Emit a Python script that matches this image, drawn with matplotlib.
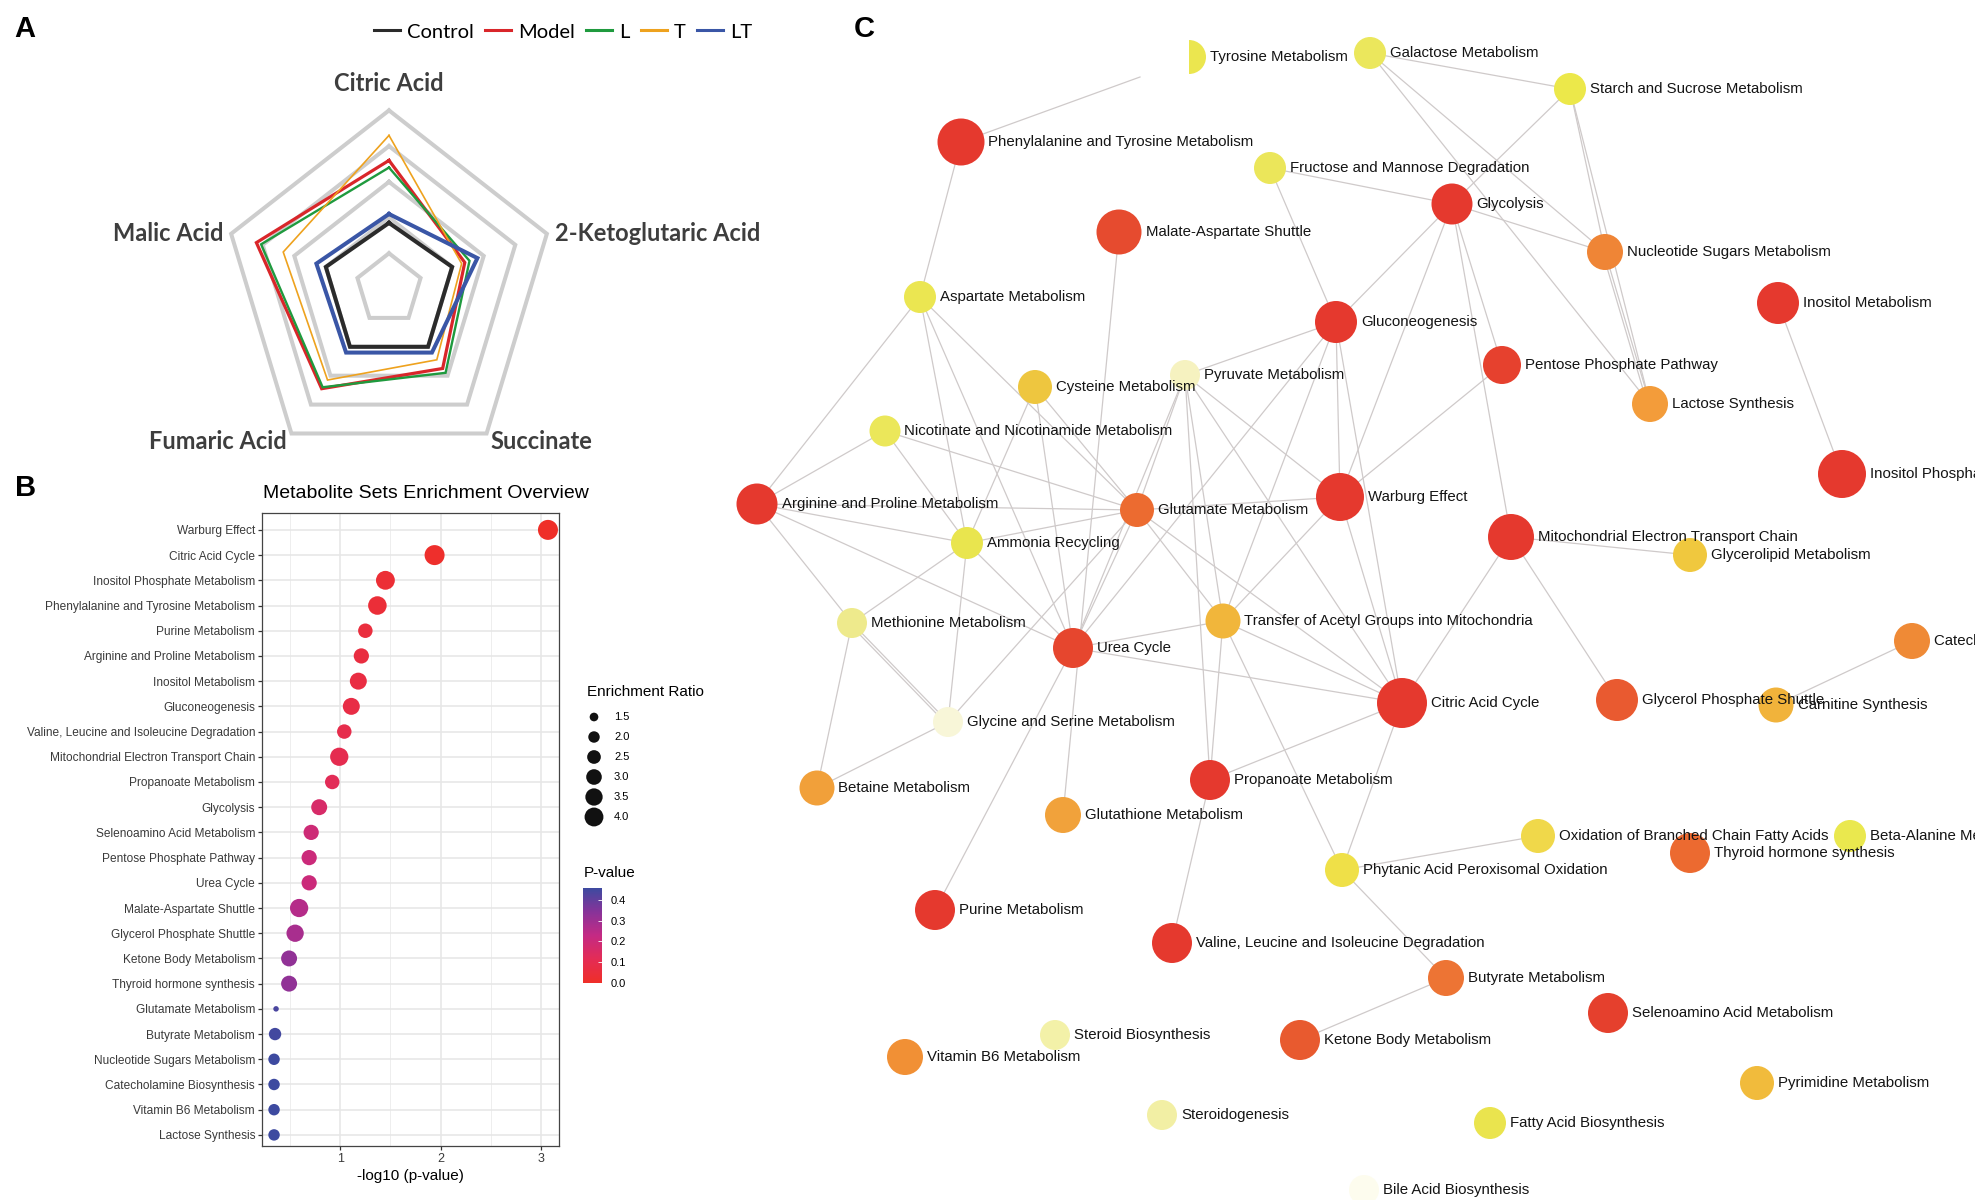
import numpy as np
import matplotlib
matplotlib.use('Agg')
import matplotlib.pyplot as plt
from matplotlib.colors import LinearSegmentedColormap, Normalize
from matplotlib.cm import ScalarMappable
from matplotlib.patches import Circle, Wedge
from matplotlib.lines import Line2D

W, H = 1975, 1200

# ---------------- panel A: radar data (fraction of outer ring)
radar_labels = ['Citric Acid', '2-Ketoglutaric Acid', 'Succinate', 'Fumaric Acid', 'Malic Acid']
groups = ['Control', 'Model', 'L', 'T', 'LT']
control_vals = [0.37, 0.40, 0.40, 0.40, 0.40]
model_vals = [0.72, 0.48, 0.55, 0.69, 0.84]
l_vals = [0.68, 0.51, 0.58, 0.68, 0.81]
t_vals = [0.86, 0.46, 0.49, 0.63, 0.67]
lt_vals = [0.42, 0.56, 0.44, 0.44, 0.46]
grid_levels = [0.2, 0.4, 0.6, 0.8, 1.0]

# ---------------- panel B: enrichment overview
pathways = ['Warburg Effect', 'Citric Acid Cycle', 'Inositol Phosphate Metabolism',
            'Phenylalanine and Tyrosine Metabolism', 'Purine Metabolism',
            'Arginine and Proline Metabolism', 'Inositol Metabolism', 'Gluconeogenesis',
            'Valine, Leucine and Isoleucine Degradation', 'Mitochondrial Electron Transport Chain',
            'Propanoate Metabolism', 'Glycolysis', 'Selenoamino Acid Metabolism',
            'Pentose Phosphate Pathway', 'Urea Cycle', 'Malate-Aspartate Shuttle',
            'Glycerol Phosphate Shuttle', 'Ketone Body Metabolism', 'Thyroid hormone synthesis',
            'Glutamate Metabolism', 'Butyrate Metabolism', 'Nucleotide Sugars Metabolism',
            'Catecholamine Biosynthesis', 'Vitamin B6 Metabolism', 'Lactose Synthesis']
neg_log_p = [3.07, 1.94, 1.45, 1.37, 1.25, 1.21, 1.18, 1.11, 1.04, 0.99, 0.92, 0.79, 0.71,
             0.69, 0.69, 0.59, 0.55, 0.49, 0.49, 0.36, 0.35, 0.34, 0.34, 0.34, 0.34]
enrichment = [4.4, 4.4, 4.0, 3.9, 2.7, 2.9, 3.4, 3.4, 2.7, 3.8, 2.7, 3.1, 2.9,
              2.9, 2.9, 3.8, 3.5, 3.1, 3.1, 1.1, 2.2, 2.0, 2.0, 2.0, 2.0]
size_breaks = [1.5, 2.0, 2.5, 3.0, 3.5, 4.0]
pval_ticks = [0.0, 0.1, 0.2, 0.3, 0.4]

# ---------------- panel C: network layout (pixel space)
node_keys = ['Tyr', 'Gal', 'Starch', 'Phe', 'Fru', 'Glyc', 'MalAsp', 'NucSug', 'Asp', 'Gluco',
             'InoMet', 'PPP', 'Pyr', 'Cys', 'Lac', 'Nic', 'InoP', 'Arg', 'Warb', 'Glu',
             'Mit', 'Amm', 'Glpd', 'Met', 'Trans', 'Urea', 'Cate', 'TCA', 'GPS', 'Carn',
             'Gly', 'Prop', 'Bet', 'Gsh', 'OxBr', 'BAla', 'Thy', 'Phyt', 'Pur', 'Val',
             'But', 'Sel', 'SterB', 'Ket', 'B6', 'Pyrim', 'Ster', 'FAB', 'Bile']
node_labels = ['Tyrosine Metabolism', 'Galactose Metabolism', 'Starch and Sucrose Metabolism',
               'Phenylalanine and Tyrosine Metabolism', 'Fructose and Mannose Degradation',
               'Glycolysis', 'Malate-Aspartate Shuttle', 'Nucleotide Sugars Metabolism',
               'Aspartate Metabolism', 'Gluconeogenesis', 'Inositol Metabolism',
               'Pentose Phosphate Pathway', 'Pyruvate Metabolism', 'Cysteine Metabolism',
               'Lactose Synthesis', 'Nicotinate and Nicotinamide Metabolism',
               'Inositol Phosphate Metabolism', 'Arginine and Proline Metabolism',
               'Warburg Effect', 'Glutamate Metabolism', 'Mitochondrial Electron Transport Chain',
               'Ammonia Recycling', 'Glycerolipid Metabolism', 'Methionine Metabolism',
               'Transfer of Acetyl Groups into Mitochondria', 'Urea Cycle',
               'Catecholamine Biosynthesis', 'Citric Acid Cycle', 'Glycerol Phosphate Shuttle',
               'Carnitine Synthesis', 'Glycine and Serine Metabolism', 'Propanoate Metabolism',
               'Betaine Metabolism', 'Glutathione Metabolism',
               'Oxidation of Branched Chain Fatty Acids', 'Beta-Alanine Metabolism',
               'Thyroid hormone synthesis', 'Phytanic Acid Peroxisomal Oxidation',
               'Purine Metabolism', 'Valine, Leucine and Isoleucine Degradation',
               'Butyrate Metabolism', 'Selenoamino Acid Metabolism', 'Steroid Biosynthesis',
               'Ketone Body Metabolism', 'Vitamin B6 Metabolism', 'Pyrimidine Metabolism',
               'Steroidogenesis', 'Fatty Acid Biosynthesis', 'Bile Acid Biosynthesis']
node_x = [1189, 1370, 1570, 961, 1270, 1452, 1119, 1605, 920, 1336,
          1778, 1502, 1185, 1035, 1650, 885, 1842, 757, 1340, 1137,
          1511, 967, 1690, 852, 1223, 1073, 1912, 1402, 1617, 1776,
          948, 1210, 817, 1063, 1538, 1850, 1690, 1342, 935, 1172,
          1446, 1608, 1055, 1300, 905, 1757, 1162, 1490, 1364]
node_y = [57, 53, 89, 142, 168, 204, 232, 252, 297, 322,
          303, 365, 375, 387, 404, 431, 474, 504, 497, 510,
          537, 543, 555, 623, 621, 648, 641, 703, 700, 705,
          722, 780, 788, 815, 836, 836, 853, 870, 910, 943,
          978, 1013, 1035, 1040, 1057, 1083, 1115, 1123, 1190]
node_r = [17, 16, 16, 23.5, 16, 20.5, 22.5, 18, 16, 21,
          21, 19, 15, 17, 18, 15.5, 24, 20.5, 24, 17,
          23, 16, 17, 15, 17.5, 20, 18, 25, 21, 17.5,
          15, 20, 17.5, 18, 17, 16, 20, 17, 20, 20,
          18, 20, 15, 20, 18, 17, 15, 16, 15]
node_colors = ['#ebe64f', '#ebe75c', '#ece84a', '#e5392e', '#ebe65a', '#e5392e', '#e64b2f',
               '#ef8536', '#ebe651', '#e5392e', '#e5392e', '#e6412e', '#f6f2c0', '#eec63f',
               '#f39c3a', '#ebe75a', '#e5392e', '#e5392e', '#e5392e', '#ec6b30', '#e5392e',
               '#e9e54e', '#f0c83e', '#eeea8c', '#f1b63b', '#e6462e', '#ef8a36', '#e5392e',
               '#e95a30', '#f1b33b', '#f8f6d8', '#e5392e', '#f1a03a', '#f1a23b', '#f0d84a',
               '#eae84e', '#ec6a30', '#efe048', '#e5392e', '#e5392e', '#ed7434', '#e5402d',
               '#f3f1a8', '#e85a2f', '#f19035', '#f1bb3c', '#f2efa4', '#eae44e', '#fdfcee']
tyr_stub = (1140, 77)
edges = [('Phe', 'Asp'), ('Gal', 'Starch'), ('Gal', 'NucSug'), ('Gal', 'Lac'),
         ('Starch', 'Glyc'), ('Starch', 'NucSug'), ('Starch', 'Lac'),
         ('Fru', 'Glyc'), ('Fru', 'Gluco'), ('Glyc', 'NucSug'), ('Glyc', 'Gluco'),
         ('Glyc', 'PPP'), ('Glyc', 'Warb'), ('Glyc', 'Mit'), ('NucSug', 'Lac'), ('NucSug', 'Lac'),
         ('MalAsp', 'Gsh'), ('Asp', 'Arg'), ('Asp', 'Amm'), ('Asp', 'Urea'), ('Asp', 'Glu'),
         ('Gluco', 'Pyr'), ('Gluco', 'Warb'), ('Gluco', 'TCA'), ('Gluco', 'Trans'),
         ('Gluco', 'Urea'), ('InoMet', 'InoP'), ('PPP', 'Warb'),
         ('Pyr', 'Glu'), ('Pyr', 'Prop'), ('Pyr', 'Trans'), ('Pyr', 'Warb'), ('Pyr', 'TCA'),
         ('Pyr', 'Urea'), ('Cys', 'Amm'), ('Cys', 'Urea'), ('Cys', 'Glu'),
         ('Nic', 'Arg'), ('Nic', 'Glu'), ('Nic', 'Amm'),
         ('Arg', 'Glu'), ('Arg', 'Amm'), ('Arg', 'Urea'), ('Arg', 'Met'),
         ('Warb', 'Glu'), ('Warb', 'Trans'), ('Warb', 'TCA'),
         ('Glu', 'Amm'), ('Glu', 'Urea'), ('Glu', 'Gly'), ('Glu', 'Trans'), ('Glu', 'TCA'),
         ('Mit', 'Glpd'), ('Mit', 'TCA'), ('Mit', 'GPS'),
         ('Amm', 'Met'), ('Amm', 'Gly'), ('Amm', 'Urea'),
         ('Met', 'Gly'), ('Met', 'Gly'), ('Met', 'Bet'),
         ('Trans', 'Urea'), ('Trans', 'TCA'), ('Trans', 'Prop'), ('Trans', 'Phyt'),
         ('Urea', 'TCA'), ('Urea', 'Pur'), ('Cate', 'Carn'), ('TCA', 'Prop'), ('TCA', 'Phyt'),
         ('Gly', 'Bet'), ('Prop', 'Val'), ('Phyt', 'OxBr'), ('Phyt', 'But'), ('But', 'Ket')]


def dot_size(ratio):
    # area grows linearly with the enrichment ratio (as ggplot's scale_size)
    d = np.sqrt(5.5 ** 2 + (np.asarray(ratio) - 1.1) / 3.3 * (20.0 ** 2 - 5.5 ** 2))
    return (d * 0.72) ** 2


def px_rect(x0, y0, x1, y1):
    return [x0 / W, 1 - y1 / H, (x1 - x0) / W, (y1 - y0) / H]


fig = plt.figure(figsize=(W / 100, H / 100), dpi=100)
fig.patch.set_facecolor('white')

# overlay in pixel coordinates: panel A, letters, legends of B, network C
ov = fig.add_axes([0, 0, 1, 1])
ov.set_xlim(0, W)
ov.set_ylim(H, 0)
ov.axis('off')
ov.patch.set_alpha(0)

for letter, (lx, ly) in zip('ABC', [(25, 29), (26, 488), (864, 29)]):
    ov.text(lx, ly, letter, fontsize=21, fontweight='bold', family='Liberation Sans',
            ha='center', va='center', color='black')

# ---- panel A radar
cx, cy, RH, RV = 389, 289, 166, 178.6
theta = np.deg2rad(90 - 72 * np.arange(5))
ux, uy = np.cos(theta), np.sin(theta)


def ring(vals):
    v = np.asarray(vals, dtype=float)
    xs = cx + RH * ux * v
    ys = cy - RV * uy * v
    return np.append(xs, xs[0]), np.append(ys, ys[0])


for lv in grid_levels:
    gx, gy = ring([lv] * 5)
    ov.plot(gx, gy, color='#cdcdcd', lw=2.9, solid_joinstyle='miter', zorder=2)

series = [control_vals, model_vals, l_vals, t_vals, lt_vals]
colors = ['#2b2b2b', '#d9262a', '#1f9a3e', '#eea21e', '#3a56a6']
widths = [2.9, 2.3, 1.7, 1.2, 2.9]
handles = []
for name, vals, c, lw in zip(groups, series, colors, widths):
    sx, sy = ring(vals)
    ov.plot(sx, sy, color=c, lw=lw, solid_joinstyle='miter', zorder=3)
    handles.append(Line2D([0], [0], color=c, lw=2.2))
ov.legend(handles, groups, loc='center', bbox_to_anchor=(563 / W, 1 - 32 / H),
          ncol=5, frameon=False, handlelength=1.3, handletextpad=0.35, columnspacing=0.55,
          prop={'family': 'Lato', 'size': 14.5})

vx, vy = ring([1.0] * 5)
lab_kw = dict(fontsize=17, fontweight='bold', family='Lato', color='#3e3e3e')
ov.text(vx[0], vy[0] - 27, radar_labels[0], ha='center', va='center', **lab_kw)
ov.text(vx[1] + 8, vy[1], radar_labels[1], ha='left', va='center', **lab_kw)
ov.text(vx[2] + 4, vy[2] + 8, radar_labels[2], ha='left', va='center', **lab_kw)
ov.text(vx[3] - 5, vy[3] + 8, radar_labels[3], ha='right', va='center', **lab_kw)
ov.text(vx[4] - 8, vy[4], radar_labels[4], ha='right', va='center', **lab_kw)

# ---- panel B
pvals = 10 ** (-np.asarray(neg_log_p))
cmap = LinearSegmentedColormap.from_list(
    'pv', ['#ef2f28', '#e42c55', '#c42a84', '#873399', '#3d4aa0'])
norm = Normalize(vmin=0.0, vmax=pvals.max())

axB = fig.add_axes(px_rect(262, 513, 559, 1146))
ypos = np.arange(len(pathways))
axB.scatter(neg_log_p, ypos, s=dot_size(enrichment), c=pvals, cmap=cmap, norm=norm,
            edgecolors='none', zorder=3)
axB.set_xlim(0.22, 3.18)
axB.set_ylim(len(pathways) - 0.56, -0.67)
axB.set_yticks(ypos)
axB.set_yticklabels(pathways, family='Liberation Sans', fontsize=8.6, color='#3a3a3a')
axB.set_xticks([1, 2, 3])
axB.set_xticks([0.5, 1.5, 2.5], minor=True)
axB.set_xticklabels(['1', '2', '3'], family='Liberation Sans', fontsize=9, color='#3a3a3a')
axB.grid(True, which='major', color='#e6e6e6', lw=1.1, zorder=0)
axB.grid(True, which='minor', axis='x', color='#eeeeee', lw=0.7, zorder=0)
axB.set_axisbelow(True)
axB.tick_params(axis='both', which='major', length=3, width=0.9, color='#333333', pad=2)
axB.tick_params(axis='x', which='minor', length=0)
for sp in axB.spines.values():
    sp.set_color('#444444')
    sp.set_linewidth(0.9)
axB.set_xlabel('-log10 (p-value)', family='Liberation Sans', fontsize=11, labelpad=3)
ov.text(263, 493, 'Metabolite Sets Enrichment Overview', family='Liberation Sans',
        fontsize=14, ha='left', va='center', color='black')

# size legend
ov.text(587, 692, 'Enrichment Ratio', family='Liberation Sans', fontsize=11,
        ha='left', va='center')
leg_y = 717 + 20 * np.arange(len(size_breaks))
ov.scatter([594] * len(size_breaks), leg_y, s=dot_size(size_breaks), color='#111111',
           edgecolors='none')
for yy, b in zip(leg_y, size_breaks):
    ov.text(614, yy, f'{b:.1f}', family='Liberation Sans', fontsize=8, ha='left', va='center')

# colour bar
ov.text(584, 873, 'P-value', family='Liberation Sans', fontsize=11, ha='left', va='center')
axCB = fig.add_axes(px_rect(583, 888, 602, 983))
cb = fig.colorbar(ScalarMappable(norm=norm, cmap=cmap), cax=axCB, ticks=pval_ticks)
cb.outline.set_visible(False)
cb.ax.tick_params(length=3, width=0.6, color='white', direction='in', pad=6, labelsize=8)
cb.ax.set_yticklabels([f'{t:.1f}' for t in pval_ticks], family='Liberation Sans')

# ---- panel C network
idx = {k: i for i, k in enumerate(node_keys)}
ov.plot([node_x[idx['Phe']], tyr_stub[0]], [node_y[idx['Phe']], tyr_stub[1]],
        color='#cfcaca', lw=0.9, zorder=4)
seen = {}
for a, b in edges:
    ia, ib = idx[a], idx[b]
    n = seen.get((a, b), 0)
    seen[(a, b)] = n + 1
    x0, y0, x1, y1 = node_x[ia], node_y[ia], node_x[ib], node_y[ib]
    if n:
        dx, dy = x1 - x0, y1 - y0
        ln = np.hypot(dx, dy)
        ox, oy = -dy / ln * 2.5, dx / ln * 2.5
        x0, x1, y0, y1 = x0 + ox, x1 + ox, y0 + oy, y1 + oy
    ov.plot([x0, x1], [y0, y1], color='#cfcaca', lw=0.9, zorder=4)

for i, k in enumerate(node_keys):
    if k == 'Tyr':
        patch = Wedge((node_x[i], node_y[i]), node_r[i], -90, 90, color=node_colors[i], lw=0)
    else:
        patch = Circle((node_x[i], node_y[i]), node_r[i], color=node_colors[i], lw=0)
    patch.set_zorder(5)
    ov.add_patch(patch)
for i, k in enumerate(node_keys):
    ov.text(node_x[i] + node_r[i] + 4, node_y[i], node_labels[i], family='Liberation Sans',
            fontsize=10.8, ha='left', va='center', color='#141414', zorder=6)

fig.savefig('out.png', dpi=100, facecolor='white')
